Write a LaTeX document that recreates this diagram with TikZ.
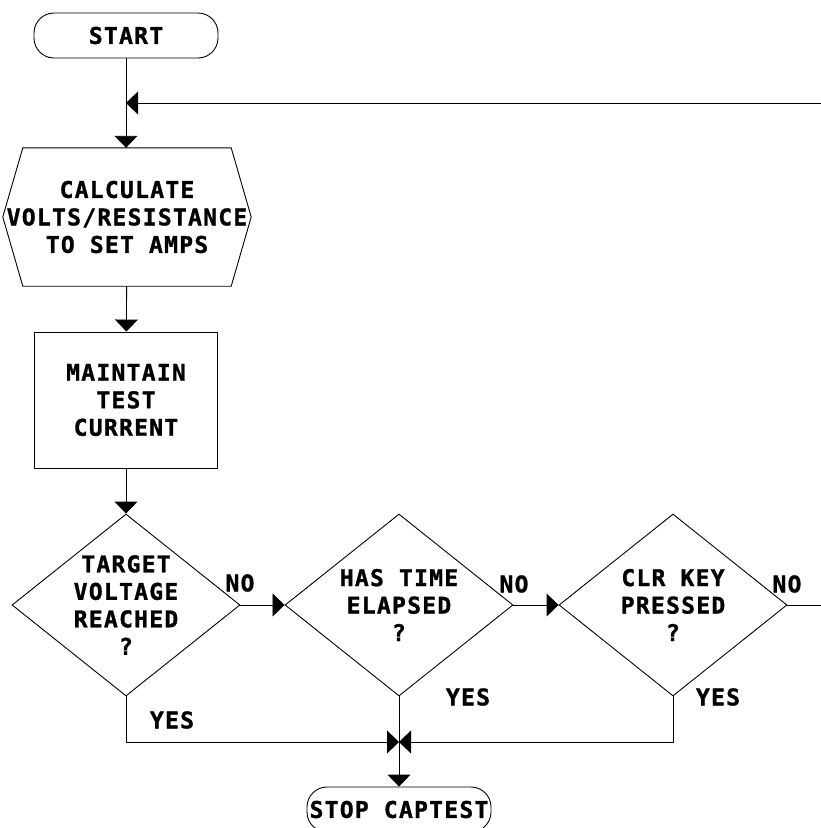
\documentclass[tikz,border=0pt]{standalone}
\usepackage{fontspec}
\usetikzlibrary{arrows.meta,shapes.geometric}
\newfontfamily\chartfont{DejaVu Sans Mono}[LetterSpace=5.5, BoldFeatures={FakeBold=1.2}]
\tikzset{
        box/.style={draw, line width=0.9pt, inner sep=0pt, align=center},
        term/.style={box, rounded corners=20pt, minimum width=184pt, minimum height=45pt},
        proc/.style={box, minimum width=183pt, minimum height=136pt},
        prep/.style={inner sep=0pt, align=center, minimum width=248pt, minimum height=138pt},
        decide/.style={box, diamond, minimum width=228pt, minimum height=182pt},
        tip/.style={line width=0.9pt, -{Triangle[length=12pt,width=23pt]}},
        wire/.style={line width=0.9pt}
}

\begin{document}
\begin{tikzpicture}[x=1pt, y=-1pt, font=\chartfont\bfseries\fontsize{23}{27.5}\selectfont]
        \useasboundingbox (0,0) rectangle (821,828);
        \node (start) [term] at (126, 35.5) {START};
        \node (calc) [prep] at (127, 217) {CALCULATE\\VOLTS/RESISTANCE\\TO SET AMPS};
        \node (hold) [proc] at (126, 400) {MAINTAIN\\TEST\\CURRENT};
        \node (volt) [decide, label={[align=center]center:{TARGET\\VOLTAGE\\REACHED\\?}}] at (126, 605) {};
        \node (time) [decide, label={[align=center]center:{HAS TIME\\ELAPSED\\?}}] at (399, 605) {};
        \node (clr) [decide, label={[align=center]center:{CLR KEY\\PRESSED\\?}}] at (673, 605) {};
        \node (stop) [term] at (399, 809.5) {STOP CAPTEST};
        \node (no1) at (240, 583) {NO};
        \node (no2) at (514, 584) {NO};
        \node (no3) at (787, 584) {NO};
        \node (yes1) at (172, 720) {YES};
        \node (yes2) at (468, 697) {YES};
        \node (yes3) at (718, 697) {YES};
        \coordinate (back) at (821, 103);
        \coordinate (out) at (821, 605);
        \coordinate (join) at (399, 742);
        \draw[wire] (calc.west) -- ([xshift=20pt]calc.north west) -- ([xshift=-20pt]calc.north east)
                -- (calc.east) -- ([xshift=-20pt]calc.south east) -- ([xshift=20pt]calc.south west) -- cycle;
        \draw[tip] (start) -- (start |- calc.north);
        \draw[tip] (back) -- (back -| start);
        \draw[tip] (calc) -- (hold);
        \draw[tip] (hold) -- (volt);
        \draw[tip] (volt) -- (time);
        \draw[tip] (time) -- (clr);
        \draw[wire] (clr) -- (out);
        \draw[tip] (volt.south) |- (join);
        \draw[tip] (clr.south) |- (join);
        \draw[tip] (time.south) -- (stop.north);
\end{tikzpicture}
\end{document}
